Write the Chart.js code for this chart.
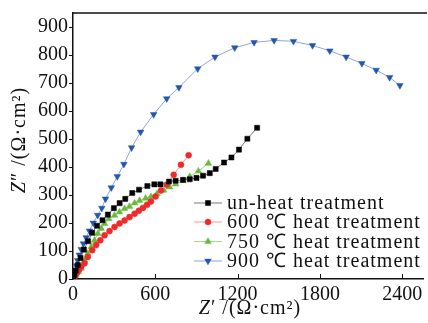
<!DOCTYPE html>
<html>
<head>
<meta charset="utf-8">
<script src="https://cdn.jsdelivr.net/npm/chart.js@4.4.1/dist/chart.umd.min.js"></script>
<style>
html,body{margin:0;padding:0;background:#fff;}
#wrap{width:428px;height:323px;position:relative;}
</style>
</head>
<body>
<div id="wrap"><canvas id="c" width="428" height="323"></canvas></div>
<script>
// ---- data (Z' , Z'' in Ω·cm²) ----
const seriesNames = ["un-heat treatment", "600 \u2103 heat treatment", "750 \u2103 heat treatment", "900 \u2103 heat treatment"];

const unheatX = [3,10,20,35,55,80,110,140,175,215,254,298,340,381,432,481,542,593,637,700,748,802,851,900,948,997,1040,1101,1155,1210,1271,1342];
const unheatY = [4,15,30,50,75,105,135,165,190,210,230,253,271,286,307,319,332,338,338,348,351,354,356,361,369,378,393,416,434,462,501,540];

const h600X = [5,15,30,45,60,84,108,140,169,199,230,266,303,339,376,412,449,480,510,540,568,602,641,683,734,787,843];
const h600Y = [3,10,22,33,44,56,79,103,121,138,156,171,186,198,209,221,233,244,254,265,277,295,316,337,372,408,442];

const h750X = [5,20,40,60,84,108,133,157,181,206,230,261,303,339,376,412,449,485,529,568,612,661,704,748,802,851,914,987];
const h750Y = [4,14,26,38,67,91,115,138,162,180,198,215,227,239,251,259,271,280,288,294,304,317,328,339,351,366,385,413];

const h900X = [5,10,16,24,34,46,60,76,96,120,148,180,210,237,279,323,371,427,493,588,683,772,909,1035,1179,1320,1466,1607,1746,1872,1991,2106,2210,2308,2383];
const h900Y = [5,18,32,48,66,86,106,126,148,172,200,228,253,286,326,366,410,469,525,588,644,684,751,793,826,845,852,849,834,815,793,770,746,720,691];

const xTicks = [0,600,1200,1800,2400];
const yTicks = [0,100,200,300,400,500,600,700,800,900];

function pts(xs, ys){ return xs.map((x,i)=>({x:x, y:ys[i]})); }

const FONT = "'Liberation Serif', serif";

const datasets = [
  {label: seriesNames[0], data: pts(unheatX, unheatY), borderColor:'#777777', backgroundColor:'#000000', pointBorderColor:'#000000', pointStyle:'rect', pointRadius:3.6, pointRotation:0},
  {label: seriesNames[1], data: pts(h600X, h600Y), borderColor:'#f29a9a', backgroundColor:'#ef2a2a', pointBorderColor:'#ef2a2a', pointStyle:'circle', pointRadius:3, pointRotation:0},
  {label: seriesNames[2], data: pts(h750X, h750Y), borderColor:'#a9d98e', backgroundColor:'#68bb3a', pointBorderColor:'#68bb3a', pointStyle:'triangle', pointRadius:3.8, pointRotation:0},
  {label: seriesNames[3], data: pts(h900X, h900Y), borderColor:'#8ea6dc', backgroundColor:'#2456ab', pointBorderColor:'#2456ab', pointStyle:'triangle', pointRadius:3.8, pointRotation:180}
].map(d => Object.assign({borderWidth:1, pointBorderWidth:0.5, showLine:true, tension:0, fill:false}, d));

const decor = {
  id:'decor',
  afterDraw(chart){
    const ctx = chart.ctx, ca = chart.chartArea;
    const xs = chart.scales.x;
    ctx.save();
    // top border
    ctx.strokeStyle = '#111';
    ctx.lineWidth = 1.6;
    ctx.beginPath(); ctx.moveTo(ca.left - 0.75, ca.top); ctx.lineTo(chart.width - 1, ca.top); ctx.stroke();
    // inward x ticks
    ctx.lineWidth = 1;
    xs.ticks.forEach(t => {
      const px = Math.round(xs.getPixelForValue(t.value)) + 0.5;
      ctx.beginPath(); ctx.moveTo(px, ca.bottom); ctx.lineTo(px, ca.bottom - 5); ctx.stroke();
    });
    // legend
    ctx.font = "20px " + FONT;
    ctx.textBaseline = 'middle';
    ctx.textAlign = 'left';
    const rows = [203, 222, 241.5, 261];
    chart.data.datasets.forEach((ds, i) => {
      const y = rows[i];
      ctx.strokeStyle = ds.borderColor; ctx.lineWidth = 1;
      ctx.beginPath(); ctx.moveTo(194, y); ctx.lineTo(222, y); ctx.stroke();
      ctx.fillStyle = ds.backgroundColor; ctx.strokeStyle = ds.pointBorderColor; ctx.lineWidth = 0.5;
      Chart.helpers.drawPoint(ctx, {pointStyle: ds.pointStyle, rotation: ds.pointRotation, radius: ds.pointRadius, borderWidth:0.5}, 208, y);
      ctx.fillStyle = '#111';
      ctx.letterSpacing = '1px';
      ctx.fillText(ds.label, 227, y + 1);
      ctx.letterSpacing = '0px';
    });
    // axis titles
    function drawTitle(parts){
      let w = 0;
      parts.forEach(p => { ctx.font = p[1] + " 20px " + FONT; w += ctx.measureText(p[0]).width; });
      let x = -w/2;
      parts.forEach(p => { ctx.font = p[1] + " 20px " + FONT; ctx.fillText(p[0], x, 0); x += ctx.measureText(p[0]).width; });
    }
    ctx.fillStyle = '#111';
    ctx.textBaseline = 'middle';
    ctx.save();
    ctx.letterSpacing = '1px';
    ctx.translate(250, 309);
    drawTitle([["Z", "italic"], ["\u2032 /(\u03A9\u00B7cm\u00B2)", "normal"]]);
    ctx.restore();
    ctx.save();
    ctx.letterSpacing = '1px';
    ctx.translate(20, 140);
    ctx.rotate(-Math.PI/2);
    drawTitle([["Z", "italic"], ["\u2033 /(\u03A9\u00B7cm\u00B2)", "normal"]]);
    ctx.restore();
    ctx.restore();
  }
};

new Chart(document.getElementById('c'), {
  type:'scatter',
  data:{datasets},
  options:{
    responsive:false,
    animation:false,
    devicePixelRatio:1,
    layout:{padding:{top:9, right:1, left:0, bottom:0}},
    plugins:{legend:{display:false}, tooltip:{enabled:false}},
    scales:{
      x:{
        type:'linear', min:0, max:2555,
        afterBuildTicks(s){ s.ticks = xTicks.map(v=>({value:v})); },
        afterFit(s){ s.height = 44; },
        grid:{display:false, drawTicks:false},
        border:{display:true, color:'#111', width:1.5},
        ticks:{color:'#111', padding:4, maxRotation:0, font:{family:FONT, size:20}, callback:v=>String(v)}
      },
      y:{
        type:'linear', min:0, max:950,
        afterBuildTicks(s){ s.ticks = yTicks.map(v=>({value:v})); },
        afterFit(s){ s.width = 73; },
        grid:{display:true, drawOnChartArea:false, drawTicks:true, tickLength:4, color:'#111', tickColor:'#111'},
        border:{display:true, color:'#111', width:1.5},
        ticks:{color:'#111', padding:1, font:{family:FONT, size:20}, callback:v=>String(v)}
      }
    }
  },
  plugins:[decor]
});
</script>
</body>
</html>
